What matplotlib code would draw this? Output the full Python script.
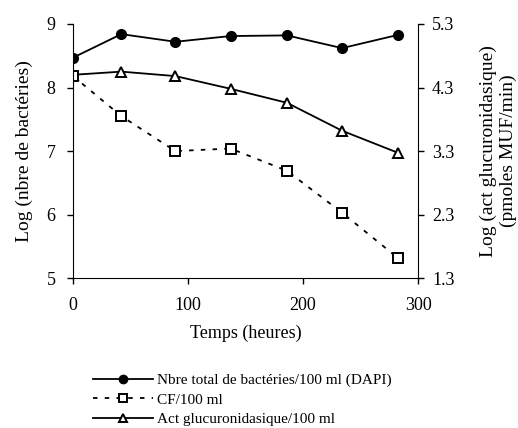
import matplotlib.pyplot as plt
from matplotlib.lines import Line2D

plt.rcParams['font.family'] = ['Liberation Serif', 'DejaVu Serif']
plt.rcParams['font.size'] = 13

temps = [0, 42, 89, 137, 186, 234, 283]
nbre_total = [8.47, 8.84, 8.72, 8.81, 8.82, 8.62, 8.83]
cf = [8.18, 7.55, 7.00, 7.04, 6.69, 6.03, 5.31]
act_gluc = [4.50, 4.55, 4.48, 4.28, 4.06, 3.62, 3.27]

left_ticks = [5, 6, 7, 8, 9]
right_ticks = [1.3, 2.3, 3.3, 4.3, 5.3]
x_ticks = [0, 100, 200, 300]

fig = plt.figure(figsize=(5.18, 4.28), dpi=100)
ax = fig.add_axes([0.141, 0.350, 0.666, 0.594])
ax2 = ax.twinx()

lw = 1.3
dash = (2.5, 4)
l1, = ax.plot(temps, nbre_total, color='black', lw=lw, marker='o', markersize=7,
              markerfacecolor='black', label='Nbre total de bactéries/100 ml (DAPI)')
l2, = ax.plot(temps, cf, color='black', lw=lw, dashes=dash, marker='s', markersize=6.5,
              markerfacecolor='white', markeredgewidth=1.4, label='CF/100 ml')
l3, = ax2.plot(temps, act_gluc, color='black', lw=lw, marker='^', markersize=7,
               markerfacecolor='white', markeredgewidth=1.4, label='Act glucuronidasique/100 ml')
ax.set_zorder(ax2.get_zorder() + 1)
ax.patch.set_visible(False)

ax.set_xlim(0, 300)
ax.set_ylim(5, 9)
ax2.set_ylim(1.3, 5.3)
ax.set_xticks(x_ticks)
ax.set_yticks(left_ticks)
ax2.set_yticks(right_ticks)
ax2.set_yticklabels([f'{t:.1f}' for t in right_ticks])

for a in (ax, ax2):
    a.spines['top'].set_visible(False)
    a.tick_params(direction='out', length=4.5, width=1)
ax.tick_params(axis='x', pad=9)
ax.tick_params(axis='y', pad=8)
ax2.tick_params(axis='y', pad=5.5)
ax.spines['right'].set_visible(False)
ax2.spines['left'].set_visible(False)
ax2.spines['bottom'].set_visible(False)

ax.set_xlabel('Temps (heures)', labelpad=8)
ax.set_ylabel('Log (nbre de bactéries)', fontsize=14, labelpad=10)
ax2.set_ylabel('Log (act glucuronidasique)\n(pmoles MUF/min)', fontsize=14,
               labelpad=18.5, linespacing=1.15)

handles = [
    Line2D([], [], color='black', lw=lw, marker='o', markersize=6, markerfacecolor='black'),
    Line2D([], [], color='black', lw=lw, dashes=dash, marker='s', markersize=5.5,
           markerfacecolor='white', markeredgewidth=1.4),
    Line2D([], [], color='black', lw=lw, marker='^', markersize=6,
           markerfacecolor='white', markeredgewidth=1.4),
]
labels = [l1.get_label(), l2.get_label(), l3.get_label()]
fig.legend(handles, labels, loc='upper left', bbox_to_anchor=(0.18, 0.128),
           frameon=False, handlelength=3.9, handletextpad=0.25, labelspacing=0.38,
           borderaxespad=0, borderpad=0, fontsize=11)

fig.savefig('out.png', dpi=100)
